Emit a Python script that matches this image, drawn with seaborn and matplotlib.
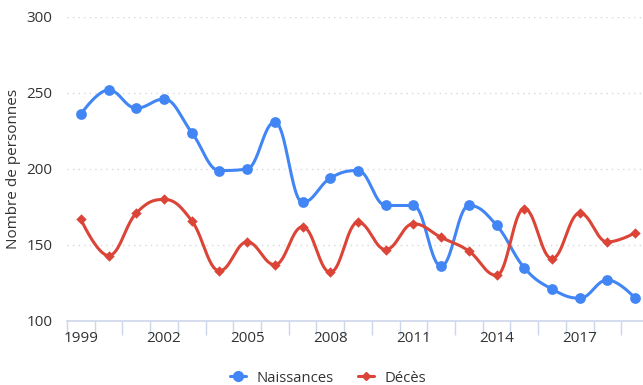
import numpy as np
import pandas as pd
import matplotlib
matplotlib.use("Agg")
import matplotlib.pyplot as plt
from matplotlib.lines import Line2D
import seaborn as sns

years = list(range(1999, 2020))
naissances = [236, 252, 240, 246, 224, 199, 200, 231, 178, 194, 199,
              176, 176, 136, 176, 163, 135, 121, 115, 127, 115]
deces = [167, 143, 171, 180, 166, 133, 152, 137, 162, 132, 165,
         147, 164, 155, 146, 130, 174, 141, 171, 152, 158]
y_ticks = [100, 150, 200, 250, 300]
x_label_years = [1999, 2002, 2005, 2008, 2011, 2014, 2017]

BLUE = "#4285F4"
RED = "#DB4437"
TEXT = "#333333"
AXIS = "#ccd6eb"


def spline_curve(xv, yv, smoothing=1.5, samples=40):
    """Smoothed path through the points using cubic Bezier segments."""
    n = len(xv)
    left = [(xv[i], yv[i]) for i in range(n)]
    right = [(xv[i], yv[i]) for i in range(n)]
    denom = smoothing + 1
    for i in range(1, n - 1):
        px, py = xv[i], yv[i]
        lx, ly = xv[i - 1], yv[i - 1]
        nx, ny = xv[i + 1], yv[i + 1]
        lcx = (smoothing * px + lx) / denom
        lcy = (smoothing * py + ly) / denom
        rcx = (smoothing * px + nx) / denom
        rcy = (smoothing * py + ny) / denom
        corr = 0.0
        if rcx != lcx:
            corr = ((rcy - lcy) * (rcx - px)) / (rcx - lcx) + py - rcy
        lcy += corr
        rcy += corr
        if lcy > ly and lcy > py:
            lcy = max(ly, py)
            rcy = 2 * py - lcy
        elif lcy < ly and lcy < py:
            lcy = min(ly, py)
            rcy = 2 * py - lcy
        if rcy > ny and rcy > py:
            rcy = max(ny, py)
            lcy = 2 * py - rcy
        elif rcy < ny and rcy < py:
            rcy = min(ny, py)
            lcy = 2 * py - rcy
        left[i] = (lcx, lcy)
        right[i] = (rcx, rcy)
    xs, ys = [xv[0]], [yv[0]]
    t = np.linspace(0, 1, samples)[1:]
    for i in range(1, n):
        p0 = np.array([xv[i - 1], yv[i - 1]])
        p1 = np.array(right[i - 1])
        p2 = np.array(left[i])
        p3 = np.array([xv[i], yv[i]])
        pts = ((1 - t) ** 3)[:, None] * p0 + (3 * (1 - t) ** 2 * t)[:, None] * p1 \
            + (3 * (1 - t) * t ** 2)[:, None] * p2 + (t ** 3)[:, None] * p3
        xs.extend(pts[:, 0])
        ys.extend(pts[:, 1])
    return np.array(xs), np.array(ys)


sns.set_theme(style="white")
plt.rcParams["font.family"] = ["Open Sans", "DejaVu Sans"]

fig = plt.figure(figsize=(6.43, 3.85), dpi=100)
ax = fig.add_axes([67 / 643, 64 / 385, 582 / 643, 304 / 385])

idx = np.arange(len(years), dtype=float)
df = pd.DataFrame({"idx": idx, "Naissances": naissances, "Décès": deces})

for col, color, marker, size in [("Naissances", BLUE, "o", 60),
                                 ("Décès", RED, "D", 28)]:
    cx, cy = spline_curve(df["idx"].values, df[col].values.astype(float))
    sns.lineplot(x=cx, y=cy, sort=False, estimator=None, ax=ax,
                 color=color, linewidth=2.2, zorder=3)
    sns.scatterplot(data=df, x="idx", y=col, ax=ax, color=color,
                    marker=marker, s=size, linewidth=0, zorder=4)

ax.set_xlim(-0.5, len(years) - 0.5)
ax.set_ylim(100, 300)

# dotted horizontal gridlines
ax.set_yticks(y_ticks)
ax.set_yticklabels([str(v) for v in y_ticks], color=TEXT, fontsize=11)
for v in y_ticks[1:]:
    ax.axhline(v, color="#d8d8d8", linewidth=1, linestyle=(0, (1, 3)), zorder=1)

# x axis: ticks on category boundaries, labels every three years
ax.set_xticks(np.arange(-0.5, len(years), 1.0))
ax.set_xticklabels([])
ax.tick_params(axis="x", length=10, width=1, color=AXIS,
               direction="out", bottom=True)
for yr in x_label_years:
    ax.text(years.index(yr), -0.056, str(yr), transform=ax.get_xaxis_transform(),
            ha="center", va="center", fontsize=11, color=TEXT)

ax.tick_params(axis="y", length=0, pad=10.5)
for s in ["top", "right", "left"]:
    ax.spines[s].set_visible(False)
ax.spines["bottom"].set_color(AXIS)
ax.spines["bottom"].set_linewidth(1.2)

ax.set_xlabel("")
ax.set_ylabel("Nombre de personnes", fontsize=11, color=TEXT)
ax.yaxis.set_label_coords(-0.079, 0.5)

handles = [
    Line2D([0], [0], color=BLUE, lw=2.2, marker="o", markersize=7),
    Line2D([0], [0], color=RED, lw=2.2, marker="D", markersize=4.5),
]
fig.legend(handles, ["Naissances", "Décès"], loc="center",
           bbox_to_anchor=(0.51, 7 / 385), ncol=2, frameon=False,
           fontsize=10.7, handlelength=1.1, columnspacing=1.6,
           handletextpad=0.7, labelcolor=TEXT)

fig.savefig("out.png", dpi=100)
